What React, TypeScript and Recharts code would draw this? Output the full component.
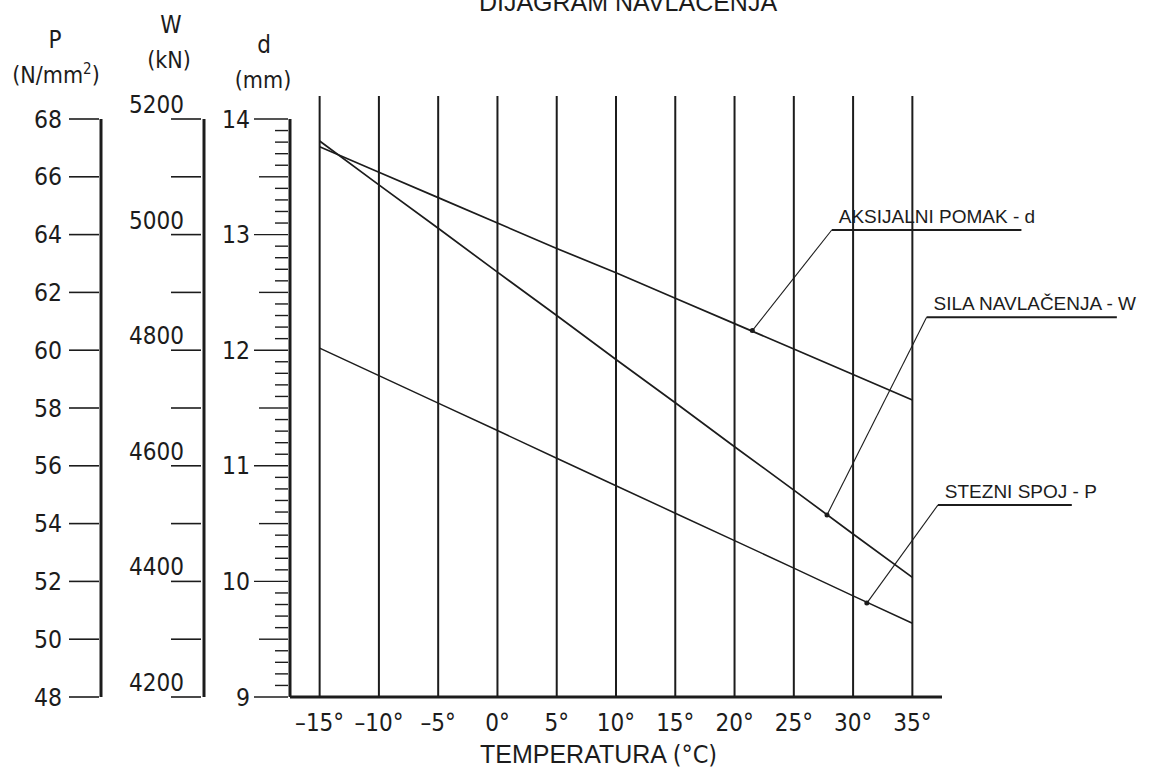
import React from "react";
import { LineChart, Line, XAxis, YAxis, ReferenceLine, ReferenceDot, Customized } from "recharts";

// temperature (°C) and the three curves
const temps = [-15, -10, -5, 0, 5, 10, 15, 20, 25, 30, 35];
const pomakD = [13.76, 13.54, 13.32, 13.1, 12.88, 12.67, 12.45, 12.23, 12.01, 11.79, 11.57]; // mm
const silaW = [5162, 5086, 5011, 4935, 4860, 4784, 4709, 4633, 4558, 4482, 4407]; // kN
const spojP = [60.07, 59.12, 58.17, 57.22, 56.26, 55.31, 54.36, 53.41, 52.46, 51.5, 50.55]; // N/mm2

const pTicks = [48, 50, 52, 54, 56, 58, 60, 62, 64, 66, 68];
const wTicks = [4200, 4300, 4400, 4500, 4600, 4700, 4800, 4900, 5000, 5100, 5200];
const dTicks = Array.from({ length: 51 }, (_, i) => Math.round((9 + i * 0.1) * 10) / 10);

// axis ids sort in the order the axes stack outward from the plot
const D = "a_d";
const W = "b_w";
const P = "c_p";

// callouts: text, axis, underline start/end (°C), underline level, point on the curve
const callouts = [
  { text: "AKSIJALNI POMAK - d", axis: D, from: 28.2, to: 44.2, level: 13.04, dotT: 21.5, dotV: 12.17 },
  { text: "SILA NAVLAČENJA - W", axis: W, from: 36.2, to: 52.25, level: 4857, dotT: 27.8, dotV: 4515 },
  { text: "STEZNI SPOJ - P", axis: P, from: 37.15, to: 48.45, level: 54.64, dotT: 31.16, dotV: 51.25 },
];

const rows = temps.map((t, i) => ({ t, d: pomakD[i], w: silaW[i], p: spojP[i] }));

const INK = "#1c1c1c";
const TECH = "'DejaVu Sans Condensed', 'Liberation Sans Narrow', 'DejaVu Sans', sans-serif";
const ARIAL = "'Liberation Sans', Arial, sans-serif";

const PTick = (props: any) => {
  const { x, y, payload } = props;
  return (
    <g>
      <line x1={x - 32} x2={x - 2} y1={y} y2={y} stroke={INK} strokeWidth={1.6} />
      <text x={x - 39} y={y + 8.5} textAnchor="end" fontSize={24.5} fontFamily={TECH} fill={INK}>
        {payload.value}
      </text>
    </g>
  );
};

const WTick = (props: any) => {
  const { x, y, payload } = props;
  const big = payload.value % 200 === 0;
  return (
    <g>
      <line x1={x - 33} x2={x - 3} y1={y} y2={y} stroke={INK} strokeWidth={1.6} />
      {big && (
        <text x={x - 20} y={y - 6} textAnchor="end" fontSize={24} fontFamily={TECH} fill={INK}>
          {payload.value}
        </text>
      )}
    </g>
  );
};

const DTick = (props: any) => {
  const { x, y, payload } = props;
  const v = payload.value;
  const whole = Math.abs(v - Math.round(v)) < 1e-6;
  const half = Math.abs(v * 2 - Math.round(v * 2)) < 1e-6;
  const len = whole ? 36 : half ? 31 : 15;
  return (
    <g>
      <line x1={x - len} x2={x - 2} y1={y} y2={y} stroke={INK} strokeWidth={1.4} />
      {whole && (
        <text x={x - 40} y={y + 8.5} textAnchor="end" fontSize={24.5} fontFamily={TECH} fill={INK}>
          {v}
        </text>
      )}
    </g>
  );
};

const TTick = (props: any) => {
  const { x, y, payload } = props;
  const t = payload.value;
  return (
    <text x={x} y={y + 34} textAnchor="middle" fontSize={24} fontFamily={TECH} fill={INK}>
      {(t < 0 ? "–" : "") + Math.abs(t) + "°"}
    </text>
  );
};

const Texts = () => (
  <g fill={INK}>
    <text x={628} y={11} textAnchor="middle" fontSize={25} fontFamily={ARIAL}>DIJAGRAM NAVLAČENJA</text>
    <text x={55} y={48} textAnchor="middle" fontSize={24} fontFamily={TECH}>P</text>
    <text x={56} y={83} textAnchor="middle" fontSize={23} fontFamily={TECH}>
      (N/mm<tspan dy={-9} fontSize={15}>2</tspan><tspan dy={9}>)</tspan>
    </text>
    <text x={171} y={33} textAnchor="middle" fontSize={24} fontFamily={TECH}>W</text>
    <text x={169} y={68} textAnchor="middle" fontSize={23} fontFamily={TECH}>(kN)</text>
    <text x={264} y={53} textAnchor="middle" fontSize={24} fontFamily={TECH}>d</text>
    <text x={263} y={88} textAnchor="middle" fontSize={23} fontFamily={TECH}>(mm)</text>
    <text x={480} y={763} fontSize={25} fontFamily={ARIAL}>
      TEMPERATURA <tspan fontFamily={TECH}>(°C)</tspan>
    </text>
  </g>
);

const App = () => {
  return (
    <div style={{ position: "absolute", left: 0, top: 0, background: "#fff" }}>
      <LineChart width={1153} height={780} data={rows} margin={{ top: 119, right: 211, bottom: 0, left: 0 }}>
        <XAxis
          dataKey="t"
          type="number"
          domain={[-17.5, 37.5]}
          ticks={temps}
          interval={0}
          height={83}
          tickLine={false}
          tickSize={0}
          tickMargin={0}
          tick={(p: any) => <TTick {...p} />}
          axisLine={{ stroke: INK, strokeWidth: 3 }}
          allowDataOverflow
        />
        <YAxis
          yAxisId={D}
          type="number"
          domain={[9, 14]}
          ticks={dTicks}
          interval={0}
          width={86}
          tickLine={false}
          tickSize={0}
          tickMargin={0}
          tick={(p: any) => <DTick {...p} />}
          axisLine={{ stroke: INK, strokeWidth: 3 }}
          allowDataOverflow
        />
        <YAxis
          yAxisId={W}
          type="number"
          domain={[4200, 5200]}
          ticks={wTicks}
          interval={0}
          width={103}
          tickLine={false}
          tickSize={0}
          tickMargin={0}
          tick={(p: any) => <WTick {...p} />}
          axisLine={{ stroke: INK, strokeWidth: 3 }}
          allowDataOverflow
        />
        <YAxis
          yAxisId={P}
          type="number"
          domain={[48, 68]}
          ticks={pTicks}
          interval={0}
          width={101}
          tickLine={false}
          tickSize={0}
          tickMargin={0}
          tick={(p: any) => <PTick {...p} />}
          axisLine={{ stroke: INK, strokeWidth: 3 }}
          allowDataOverflow
        />

        {temps.map((t) => (
          <ReferenceLine
            key={"g" + t}
            yAxisId={D}
            segment={[{ x: t, y: 9 }, { x: t, y: 14.2 }]}
            stroke={INK}
            strokeWidth={2}
            ifOverflow="visible"
          />
        ))}

        <Line yAxisId={D} dataKey="d" type="linear" stroke={INK} strokeWidth={1.7} dot={false} isAnimationActive={false} />
        <Line yAxisId={W} dataKey="w" type="linear" stroke={INK} strokeWidth={1.7} dot={false} isAnimationActive={false} />
        <Line yAxisId={P} dataKey="p" type="linear" stroke={INK} strokeWidth={1.5} dot={false} isAnimationActive={false} />

        {callouts.map((c) => (
          <ReferenceLine
            key={"u" + c.text}
            yAxisId={c.axis}
            segment={[{ x: c.from, y: c.level }, { x: c.to, y: c.level }]}
            stroke={INK}
            strokeWidth={2}
            ifOverflow="visible"
            label={{ value: c.text, position: "insideBottomLeft", offset: 7, fontSize: 19, fontFamily: ARIAL, fill: INK }}
          />
        ))}
        {callouts.map((c) => (
          <ReferenceLine
            key={"l" + c.text}
            yAxisId={c.axis}
            segment={[{ x: c.from, y: c.level }, { x: c.dotT, y: c.dotV }]}
            stroke={INK}
            strokeWidth={1.1}
            ifOverflow="visible"
          />
        ))}
        {callouts.map((c) => (
          <ReferenceDot
            key={"p" + c.text}
            yAxisId={c.axis}
            x={c.dotT}
            y={c.dotV}
            r={2.5}
            fill={INK}
            stroke="none"
            ifOverflow="visible"
          />
        ))}
        <Customized component={Texts} />
      </LineChart>
    </div>
  );
};

export default App;
